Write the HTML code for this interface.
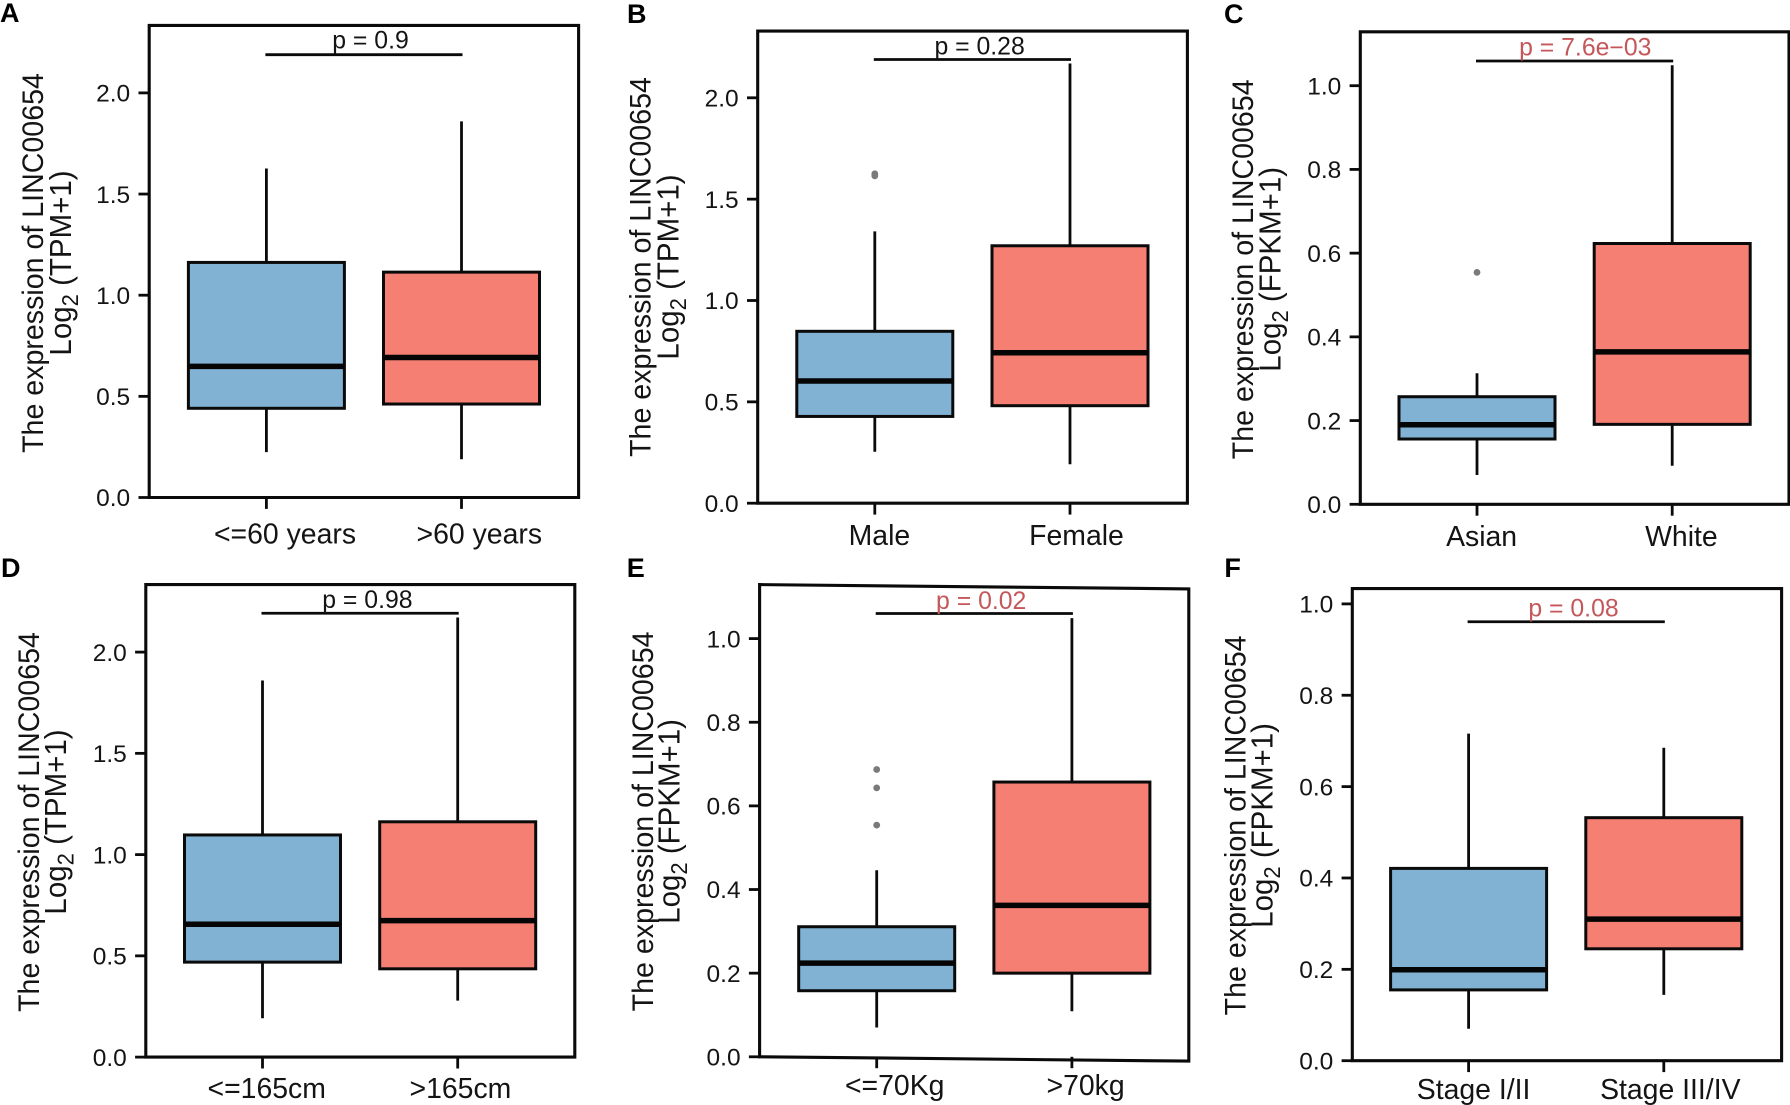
<!DOCTYPE html>
<html lang="en">
<head>
<meta charset="utf-8">
<title>LINC00654 expression boxplots</title>
<style>
html,body{margin:0;padding:0;background:#fff;width:1790px;height:1105px;overflow:hidden}
svg{display:block}
text{font-family:"Liberation Sans",Arial,sans-serif;fill:#141414}
</style>
</head>
<body>
<svg id="figure" xmlns="http://www.w3.org/2000/svg" width="1790" height="1105" viewBox="0 0 1790 1105"></svg>
<script>
// ---- Data ----
const tpmTicks = ["0.0","0.5","1.0","1.5","2.0"];
const fpkmTicks = ["0.0","0.2","0.4","0.6","0.8","1.0"];

const categoriesA = ["<=60 years",">60 years"];
const q1A = [0.441,0.462];
const medianA = [0.648,0.692];
const q3A = [1.162,1.114];
const whiskerLowA = [0.224,0.189];
const whiskerHighA = [1.626,1.859];
const outliersA = [[],[]];
const bracketA = 2.189;
const pLabelA = "p = 0.9";

const categoriesB = ["Male","Female"];
const q1B = [0.428,0.481];
const medianB = [0.603,0.742];
const q3B = [0.848,1.27];
const whiskerLowB = [0.254,0.192];
const whiskerHighB = [1.341,2.169];
const outliersB = [[1.615,1.625],[]];
const bracketB = 2.189;
const pLabelB = "p = 0.28";

const categoriesC = ["Asian","White"];
const q1C = [0.156,0.191];
const medianC = [0.19,0.364];
const q3C = [0.257,0.623];
const whiskerLowC = [0.07,0.092];
const whiskerHighC = [0.313,1.049];
const outliersC = [[0.554],[]];
const bracketC = 1.059;
const pLabelC = "p = 7.6e\u221203";

const categoriesD = ["<=165cm",">165cm"];
const q1D = [0.469,0.436];
const medianD = [0.656,0.674];
const q3D = [1.097,1.162];
const whiskerLowD = [0.192,0.279];
const whiskerHighD = [1.86,2.171];
const outliersD = [[],[]];
const bracketD = 2.192;
const pLabelD = "p = 0.98";

const categoriesE = ["<=70Kg",">70kg"];
const q1E = [0.158,0.2];
const medianE = [0.224,0.362];
const q3E = [0.311,0.657];
const whiskerLowE = [0.07,0.109];
const whiskerHighE = [0.446,1.049];
const outliersE = [[0.554,0.643,0.687],[]];
const bracketE = 1.06;
const pLabelE = "p = 0.02";

const categoriesF = ["Stage I/II","Stage III/IV"];
const q1F = [0.155,0.245];
const medianF = [0.199,0.31];
const q3F = [0.421,0.532];
const whiskerLowF = [0.07,0.144];
const whiskerHighF = [0.716,0.685];
const outliersF = [[],[]];
const bracketF = 0.961;
const pLabelF = "p = 0.08";

// ---- Panel wiring and layout ----
const panels = [
 {id:"a",letter:"A",lx:0,ly:22,l:149.2,r:578.6,t:25.4,b:497.5,pxPerUnit:202.3,skew:0,tx:[266.4,461.5],
  ticks:tpmTicks,cats:categoriesA,q1:q1A,med:medianA,q3:q3A,lo:whiskerLowA,hi:whiskerHighA,out:outliersA,br:bracketA,p:pLabelA,sig:false,
  px:370.5,py:48.5,catx:[285,479.3],caty:543.5,t1x:42.9,t2x:70.8,tcy:263,unit:"(TPM+1)"},
 {id:"b",letter:"B",lx:627,ly:23,l:757.7,r:1187.4,t:31.1,b:503.2,pxPerUnit:202.7,skew:0,tx:[874.8,1070],
  ticks:tpmTicks,cats:categoriesB,q1:q1B,med:medianB,q3:q3B,lo:whiskerLowB,hi:whiskerHighB,out:outliersB,br:bracketB,p:pLabelB,sig:false,
  px:979.6,py:54.6,catx:[879.4,1076.5],caty:545,t1x:650.5,t2x:678.5,tcy:267,unit:"(TPM+1)"},
 {id:"c",letter:"C",lx:1224,ly:23,l:1360.3,r:1789,t:31.8,b:504.3,pxPerUnit:418.6,skew:0,tx:[1477,1672.2],
  ticks:fpkmTicks,cats:categoriesC,q1:q1C,med:medianC,q3:q3C,lo:whiskerLowC,hi:whiskerHighC,out:outliersC,br:bracketC,p:pLabelC,sig:true,
  px:1585.3,py:55.7,catx:[1481.6,1681.4],caty:546,t1x:1253.1,t2x:1280.7,tcy:269.3,unit:"(FPKM+1)"},
 {id:"d",letter:"D",lx:1,ly:577,l:145.8,r:574.8,t:584.6,b:1057.1,pxPerUnit:202.5,skew:0,tx:[262.5,457.7],
  ticks:tpmTicks,cats:categoriesD,q1:q1D,med:medianD,q3:q3D,lo:whiskerLowD,hi:whiskerHighD,out:outliersD,br:bracketD,p:pLabelD,sig:false,
  px:367.4,py:608.2,catx:[266.7,460.4],caty:1098,t1x:39,t2x:66.2,tcy:822,unit:"(TPM+1)"},
 {id:"e",letter:"E",lx:626.8,ly:577,l:759.6,r:1188.8,t:584.6,b:1056.8,pxPerUnit:418.2,skew:4.3,tx:[876.7,1071.9],
  ticks:fpkmTicks,cats:categoriesE,q1:q1E,med:medianE,q3:q3E,lo:whiskerLowE,hi:whiskerHighE,out:outliersE,br:bracketE,p:pLabelE,sig:true,
  px:981.2,py:608.9,catx:[894.7,1085.6],caty:1095,t1x:652.8,t2x:679.6,tcy:821.4,unit:"(FPKM+1)"},
 {id:"f",letter:"F",lx:1224.4,ly:577,l:1352.3,r:1781.6,t:588.6,b:1060.7,pxPerUnit:456.8,skew:0,tx:[1468.6,1663.8],
  ticks:fpkmTicks,cats:categoriesF,q1:q1F,med:medianF,q3:q3F,lo:whiskerLowF,hi:whiskerHighF,out:outliersF,br:bracketF,p:pLabelF,sig:true,
  px:1573.5,py:616.7,catx:[1473.6,1670.3],caty:1099,t1x:1245.5,t2x:1272.7,tcy:825.4,unit:"(FPKM+1)"}
];

const boxColors = ["#81B2D4","#F57F73"];
const INK = "#0a0a0a";
const SVG_NS = "http://www.w3.org/2000/svg";
const figure = document.getElementById("figure");

function mk(parent, tag, attrs, text){
  const el = document.createElementNS(SVG_NS, tag);
  for (const k in attrs) el.setAttribute(k, attrs[k]);
  if (text !== undefined) el.textContent = text;
  parent.appendChild(el);
  return el;
}
function hText(parent, str, x, y, size, anchor, fill, weight){
  const el = mk(parent, "text", {
    x: x, y: y,
    "font-size": size, "text-anchor": anchor
  }, str);
  if (fill) el.style.fill = fill;
  if (weight) el.setAttribute("font-weight", weight);
  return el;
}

panels.forEach(function(P){
  const yScale = function(v){ return P.b - v * P.pxPerUnit; };
  const xScale = function(i){ return P.tx[i]; };
  const boxHalf = 78;

  const g = mk(figure, "g", {});
  
  

  const letter = hText(g, P.letter, P.lx, P.ly, 27, "start", "#000", "bold");
  
  

  // y axis ticks + labels
  P.ticks.forEach(function(lbl){
    const y = yScale(parseFloat(lbl));
    const tick = mk(g, "line", {x1:P.l-10.7, x2:P.l, y1:y, y2:y, stroke:INK, "stroke-width":2.8});
    
    
    const t = hText(g, lbl, P.l-19, y+8.7, 24.5, "end");
    
    
  });

  // x axis ticks + category labels
  P.cats.forEach(function(cat, i){
    const x = xScale(i);
    const tick = mk(g, "line", {x1:x, x2:x, y1:P.b, y2:P.b+11.4, stroke:INK, "stroke-width":2.8});
    
    
    const t = hText(g, cat, P.catx[i], P.caty, 28.4, "middle");
    
    
  });

  // boxes
  P.cats.forEach(function(cat, i){
    const x = xScale(i);
    const whisker = mk(g, "line", {x1:x, x2:x, y1:yScale(P.lo[i]), y2:yScale(P.hi[i]), stroke:INK, "stroke-width":2.8});
    
    

    const box = mk(g, "rect", {x:x-boxHalf, width:boxHalf*2, y:yScale(P.q3[i]), height:yScale(P.q1[i])-yScale(P.q3[i]),
      fill:boxColors[i], stroke:INK, "stroke-width":3});
    
    

    const med = mk(g, "line", {x1:x-boxHalf, x2:x+boxHalf, y1:yScale(P.med[i]), y2:yScale(P.med[i]), stroke:"#050505", "stroke-width":5.5});
    
    

    P.out[i].forEach(function(v){
      const dot = mk(g, "circle", {cx:x, cy:yScale(v), r:3.4, fill:"#7a7a7a"});
      
      
    });
  });

  // frame
  const frame = mk(g, "path", {
    d:"M"+P.l+" "+P.t+" L"+P.r+" "+(P.t+P.skew)+" L"+P.r+" "+(P.b+P.skew)+" L"+P.l+" "+P.b+" Z",
    fill:"none", stroke:INK, "stroke-width":3.1, "stroke-linejoin":"miter"
  });
  
  

  // significance bracket + p label
  const by = yScale(P.br);
  const bracket = mk(g, "line", {x1:xScale(0)-1, x2:xScale(1)+1, y1:by, y2:by, stroke:INK, "stroke-width":2.8});
  
  
  const pt = hText(g, P.p, P.px, P.py, 24.8, "middle", P.sig ? "#C4575A" : "#141414");
  
  

  // y axis title (two lines)
  const title1 = mk(g, "text", {transform:"translate("+P.t1x+","+P.tcy+") rotate(-90) scale(1,1.05)", "font-size":28.6, "text-anchor":"middle"},
    "The expression of LINC00654");
  
  
  const title2 = mk(g, "text", {transform:"translate("+P.t2x+","+P.tcy+") rotate(-90) scale(1,1.05)", "font-size":29.5, "text-anchor":"middle"}, "Log");
  
  
  const sub = mk(title2, "tspan", {"font-size":22, dy:7}, "2");
  
  
  const unit = mk(title2, "tspan", {dy:-7}, " " + P.unit);
  
  
});
</script>
</body>
</html>
